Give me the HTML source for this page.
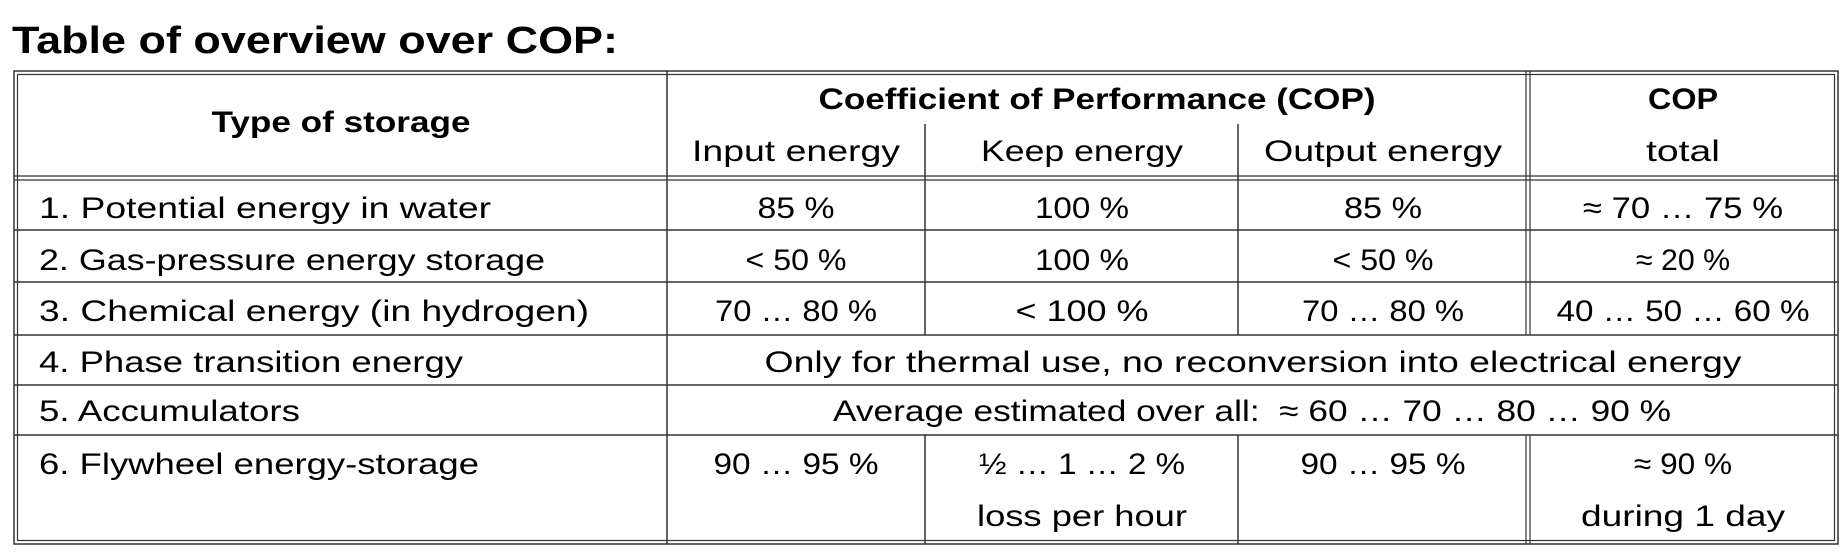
<!DOCTYPE html>
<html><head><meta charset="utf-8"><style>
html,body{margin:0;padding:0;background:#fff;width:1846px;height:554px;overflow:hidden}
svg{display:block}
text{font-family:"Liberation Sans",sans-serif;fill:#000}
</style></head><body>
<svg width="1846" height="554" viewBox="0 0 1846 554">
<text x="12" y="53" font-size="38" font-weight="bold" textLength="606" lengthAdjust="spacingAndGlyphs">Table of overview over COP:</text>
<g stroke="#333" fill="none">
<rect x="14" y="71" width="1824" height="473" stroke-width="1.5"/>
<rect x="17.5" y="74.5" width="1817" height="466" stroke-width="1.2"/>
<line x1="14" y1="176" x2="1838" y2="176" stroke-width="1.2"/>
<line x1="14" y1="180" x2="1838" y2="180" stroke-width="1.2"/>
<line x1="14" y1="230" x2="1838" y2="230" stroke-width="1.5"/>
<line x1="14" y1="282" x2="1838" y2="282" stroke-width="1.5"/>
<line x1="14" y1="335" x2="1838" y2="335" stroke-width="1.5"/>
<line x1="14" y1="385" x2="1838" y2="385" stroke-width="1.5"/>
<line x1="14" y1="435" x2="1838" y2="435" stroke-width="1.5"/>
<line x1="667" y1="71" x2="667" y2="544" stroke-width="1.5"/>
<line x1="925" y1="124" x2="925" y2="335" stroke-width="1.5"/>
<line x1="1238" y1="124" x2="1238" y2="335" stroke-width="1.5"/>
<line x1="925" y1="435" x2="925" y2="544" stroke-width="1.5"/>
<line x1="1238" y1="435" x2="1238" y2="544" stroke-width="1.5"/>
<line x1="1526" y1="71" x2="1526" y2="335" stroke-width="1.2"/>
<line x1="1530" y1="71" x2="1530" y2="335" stroke-width="1.2"/>
<line x1="1526" y1="435" x2="1526" y2="544" stroke-width="1.2"/>
<line x1="1530" y1="435" x2="1530" y2="544" stroke-width="1.2"/>
</g>
<g font-size="30" text-anchor="middle">
<text x="341" y="132" font-weight="bold" textLength="259" lengthAdjust="spacingAndGlyphs">Type of storage</text>
<text x="1097" y="109" font-weight="bold" textLength="557" lengthAdjust="spacingAndGlyphs">Coefficient of Performance (COP)</text>
<text x="1683" y="109" font-weight="bold" textLength="70" lengthAdjust="spacingAndGlyphs">COP</text>
<text x="796" y="161" textLength="208" lengthAdjust="spacingAndGlyphs">Input energy</text>
<text x="1082" y="161" textLength="202" lengthAdjust="spacingAndGlyphs">Keep energy</text>
<text x="1383" y="161" textLength="238" lengthAdjust="spacingAndGlyphs">Output energy</text>
<text x="1683" y="161" textLength="74" lengthAdjust="spacingAndGlyphs">total</text>
</g>
<g font-size="30">
<text x="39" y="218" textLength="452" lengthAdjust="spacingAndGlyphs">1. Potential energy in water</text>
<text x="39" y="270" textLength="506" lengthAdjust="spacingAndGlyphs">2. Gas-pressure energy storage</text>
<text x="39" y="321" textLength="550" lengthAdjust="spacingAndGlyphs">3. Chemical energy (in hydrogen)</text>
<text x="39" y="372" textLength="424" lengthAdjust="spacingAndGlyphs">4. Phase transition energy</text>
<text x="39" y="421" textLength="261" lengthAdjust="spacingAndGlyphs">5. Accumulators</text>
<text x="39" y="474" textLength="440" lengthAdjust="spacingAndGlyphs">6. Flywheel energy-storage</text>
</g>
<g font-size="30" text-anchor="middle">
<text x="796" y="218" textLength="77" lengthAdjust="spacingAndGlyphs">85 %</text>
<text x="1082" y="218" textLength="94" lengthAdjust="spacingAndGlyphs">100 %</text>
<text x="1383" y="218" textLength="78" lengthAdjust="spacingAndGlyphs">85 %</text>
<text x="1683" y="218" textLength="200" lengthAdjust="spacingAndGlyphs">≈ 70 … 75 %</text>
<text x="796" y="270" textLength="101" lengthAdjust="spacingAndGlyphs">&lt; 50 %</text>
<text x="1082" y="270" textLength="94" lengthAdjust="spacingAndGlyphs">100 %</text>
<text x="1383" y="270" textLength="101" lengthAdjust="spacingAndGlyphs">&lt; 50 %</text>
<text x="1683" y="270" textLength="94" lengthAdjust="spacingAndGlyphs">≈ 20 %</text>
<text x="796" y="321" textLength="162" lengthAdjust="spacingAndGlyphs">70 … 80 %</text>
<text x="1082" y="321" textLength="133" lengthAdjust="spacingAndGlyphs">&lt; 100 %</text>
<text x="1383" y="321" textLength="162" lengthAdjust="spacingAndGlyphs">70 … 80 %</text>
<text x="1683" y="321" textLength="253" lengthAdjust="spacingAndGlyphs">40 … 50 … 60 %</text>
<text x="1253" y="372" textLength="977" lengthAdjust="spacingAndGlyphs">Only for thermal use, no reconversion into electrical energy</text>
<text x="1252" y="421" textLength="838" lengthAdjust="spacingAndGlyphs" xml:space="preserve">Average estimated over all:  ≈ 60 … 70 … 80 … 90 %</text>
<text x="796" y="474" textLength="165" lengthAdjust="spacingAndGlyphs">90 … 95 %</text>
<text x="1082" y="474" textLength="206" lengthAdjust="spacingAndGlyphs">½ … 1 … 2 %</text>
<text x="1082" y="526" textLength="210" lengthAdjust="spacingAndGlyphs">loss per hour</text>
<text x="1383" y="474" textLength="165" lengthAdjust="spacingAndGlyphs">90 … 95 %</text>
<text x="1683" y="474" textLength="98" lengthAdjust="spacingAndGlyphs">≈ 90 %</text>
<text x="1683" y="526" textLength="204" lengthAdjust="spacingAndGlyphs">during 1 day</text>
</g>
</svg>
</body></html>
